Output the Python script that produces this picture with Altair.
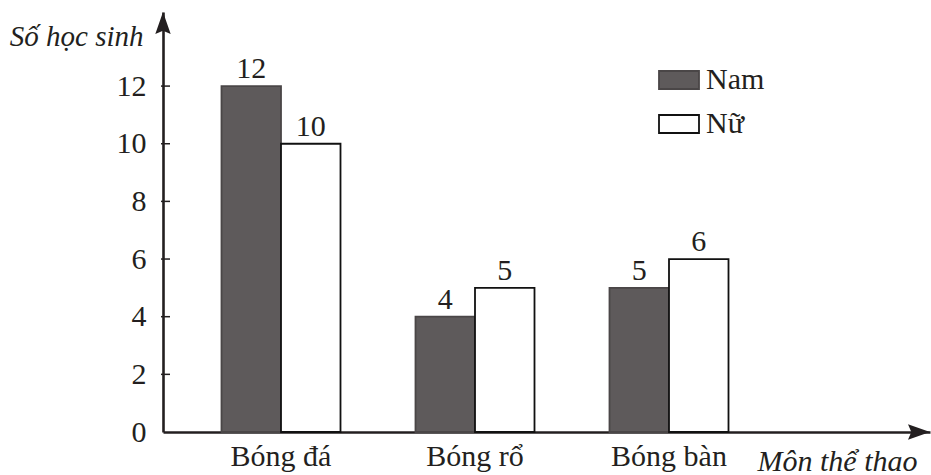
import altair as alt
import pandas as pd

# Số học sinh tham gia các môn thể thao, theo giới tính
categories = ["Bóng đá", "Bóng rổ", "Bóng bàn"]
genders = ["Nam", "Nữ"]
nam = [12, 4, 5]
nu = [10, 5, 6]
y_ticks = [0, 2, 4, 6, 8, 10, 12]

rows = []
for i, c in enumerate(categories):
    rows.append({"Môn": c, "Giới tính": "Nam", "Số": nam[i]})
    rows.append({"Môn": c, "Giới tính": "Nữ", "Số": nu[i]})
df = pd.DataFrame(rows)

FONT = "Liberation Serif"
INK = "#231f20"
DARK = "#5e5a5b"
W, H = 767, 420
Y_MAX = 14.57

x_enc = alt.X(
    "Môn:N",
    sort=categories,
    scale=alt.Scale(paddingInner=0.3866, paddingOuter=0.6701, align=0.225),
    axis=alt.Axis(
        title="Môn thể thao",
        labelAngle=0,
        labelFont=FONT,
        labelFontSize=30,
        labelColor=INK,
        labelPadding=9,
        ticks=False,
        domainColor=INK,
        domainWidth=2.6,
        titleFont=FONT,
        titleFontSize=30,
        titleFontStyle="italic",
        titleFontWeight="normal",
        titleColor=INK,
        titleAlign="left",
        titleBaseline="alphabetic",
        titleAnchor="start",
        titleX=594,
        titleY=38,
    ),
)
y_axis = alt.Axis(
    values=y_ticks,
    title="Số học sinh",
    grid=False,
    ticks=False,
    labelFont=FONT,
    labelFontSize=30,
    labelColor=INK,
    labelPadding=17,
    domainColor=INK,
    domainWidth=2.6,
    titleFont=FONT,
    titleFontSize=29,
    titleFontStyle="italic",
    titleFontWeight="normal",
    titleColor=INK,
    titleAngle=0,
    titleAlign="right",
    titleBaseline="alphabetic",
    titleX=-20,
    titleY=33,
)
xoff_enc = alt.XOffset(
    "Giới tính:N", sort=genders, scale=alt.Scale(paddingInner=0, paddingOuter=0)
)
y_scale = alt.Scale(domain=[0, Y_MAX], nice=False, zero=True)
y_enc = alt.Y("Số:Q", scale=y_scale, axis=y_axis)

bars = alt.Chart(df).mark_bar(strokeWidth=1.8).encode(
    x=x_enc,
    xOffset=xoff_enc,
    y=y_enc,
    fill=alt.Fill(
        "Giới tính:N",
        scale=alt.Scale(domain=genders, range=[DARK, "#ffffff"]),
        legend=alt.Legend(title=None),
    ),
    stroke=alt.Stroke(
        "Giới tính:N",
        scale=alt.Scale(domain=genders, range=["#4a4647", "#111111"]),
        legend=alt.Legend(title=None),
    ),
)

labels = alt.Chart(df).mark_text(
    font=FONT, fontSize=30, color=INK, baseline="alphabetic", dy=-8
).encode(
    x=x_enc,
    xOffset=xoff_enc,
    y=y_enc,
    text="Số:Q",
)

# short tick marks crossing the vertical axis
tick_df = pd.DataFrame({"Số": y_ticks[1:]})
ticks = alt.Chart(tick_df).mark_rule(color=INK, strokeWidth=1.5).encode(
    y=y_enc,
    x=alt.value(-2),
    x2=alt.value(7),
)

# arrow heads at the ends of both axes
one = pd.DataFrame({"a": [0]})
arrow_x = alt.Chart(one).mark_point(
    shape="M1,0L-1,-0.7L-0.7,0L-1,0.7Z", filled=True, opacity=1, color=INK, size=484
).encode(x=alt.value(W - 11), y=alt.value(H))
arrow_y = alt.Chart(one).mark_point(
    shape="M0,-1L-0.7,1L0,0.7L0.7,1Z", filled=True, opacity=1, color=INK, size=484
).encode(x=alt.value(0), y=alt.value(11))

chart = (
    alt.layer(bars, labels, ticks, arrow_x, arrow_y)
    .properties(
        width=W,
        height=H,
        autosize=alt.AutoSizeParams(type="none"),
        padding={"left": 163, "top": 12, "right": 1, "bottom": 43},
        background="#ffffff",
    )
    .configure_view(stroke=None)
    .configure_legend(
        orient="none",
        legendX=495,
        legendY=47,
        padding=0,
        symbolType="M-1,-0.45H1V0.45H-1Z",
        symbolSize=1600,
        symbolStrokeWidth=1.8,
        labelFont=FONT,
        labelFontSize=30,
        labelColor=INK,
        labelOffset=6,
        rowPadding=8,
    )
)

chart.save("out.html", embed_options={"renderer": "svg", "actions": False})
